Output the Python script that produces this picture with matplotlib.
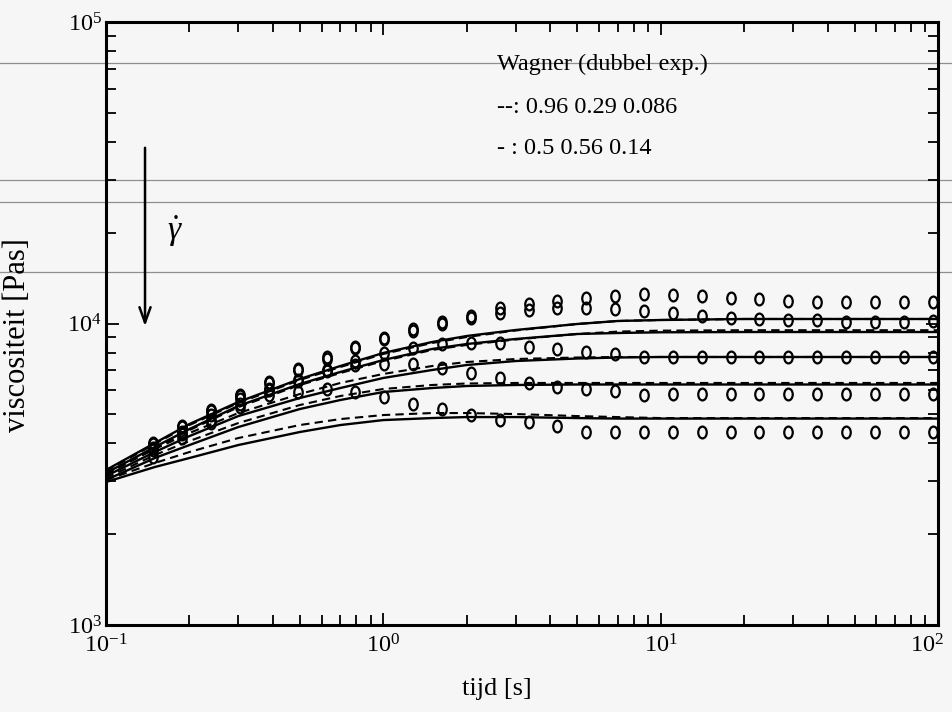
import numpy as np
import matplotlib
matplotlib.use("Agg")
import matplotlib.pyplot as plt
from matplotlib.path import Path
from matplotlib.lines import Line2D
from matplotlib.transforms import ScaledTranslation

plt.rcParams["font.family"] = ["Liberation Serif", "DejaVu Serif"]
plt.rcParams["mathtext.fontset"] = "custom"
plt.rcParams["mathtext.rm"] = "Liberation Serif"
plt.rcParams["mathtext.it"] = "Liberation Serif:italic"

# measurement times [s]
t_data = [0.148, 0.188, 0.239, 0.304, 0.386, 0.491, 0.624, 0.793, 1.007, 1.28,
          1.63, 2.07, 2.63, 3.34, 4.24, 5.39, 6.85, 8.71, 11.07, 14.07,
          17.9, 22.7, 28.9, 36.7, 46.6, 59.3, 75.3, 95.7]

# measured start-up viscosity [Pas], one list per shear rate
eta_1 = [4015, 4571, 5166, 5792, 6397, 7066, 7714, 8357, 8951, 9567,
         10092, 10590, 11230, 11605, 11899, 12176, 12334, 12495, 12430, 12364,
         12176, 12057, 11899, 11810, 11783, 11810, 11810, 11810]
eta_2 = [3975, 4525, 5110, 5730, 6330, 6990, 7630, 8270, 8860, 9470,
         9990, 10430, 10860, 11086, 11230, 11230, 11170, 11027, 10810, 10615,
         10452, 10325, 10271, 10233, 10153, 10145, 10145, 10160]
eta_3 = [3864, 4366, 4972, 5617, 6064, 6496, 6985, 7525, 7966, 8275,
         8531, 8616, 8600, 8357, 8231, 8063, 7903, 7761, 7761, 7761,
         7761, 7761, 7761, 7761, 7761, 7761, 7761, 7761]
eta_4 = [3806, 4300, 4786, 5408, 6017, 6447, 6958, 7285, 7341, 7358,
         7103, 6836, 6580, 6335, 6171, 6064, 5972, 5793, 5837, 5837,
         5837, 5837, 5837, 5837, 5837, 5837, 5837, 5837]
eta_5 = [3608, 4171, 4677, 5286, 5793, 5941, 6050, 5927, 5691, 5420,
         5193, 4972, 4786, 4702, 4581, 4356, 4366, 4366, 4366, 4366,
         4366, 4366, 4366, 4366, 4366, 4366, 4366, 4366]

# Wagner model (double exponential damping) predictions
t_model = [0.1, 0.15, 0.2, 0.3, 0.5, 0.7, 1, 1.5, 2, 3, 5, 7, 10, 20, 50, 100]
# damping 0.5 0.56 0.14 (solid)
model_a_solid = [3266, 4014, 4641, 5491, 6547, 7228, 7985, 8683, 9090, 9516, 9962, 10193, 10271, 10350, 10350, 10350]
model_b_solid = [3192, 3894, 4467, 5326, 6300, 6906, 7567, 8233, 8551, 8885, 9230, 9300, 9350, 9370, 9370, 9370]
model_c_solid = [3120, 3748, 4233, 4932, 5661, 6110, 6597, 7012, 7284, 7509, 7654, 7713, 7743, 7743, 7743, 7743]
model_d_solid = [3027, 3580, 3953, 4535, 5204, 5575, 5927, 6110, 6205, 6253, 6276, 6276, 6276, 6276, 6276, 6276]
model_e_solid = [2981, 3342, 3580, 3953, 4366, 4605, 4783, 4857, 4894, 4894, 4857, 4838, 4838, 4838, 4838, 4838]
# damping 0.96 0.29 0.086 (dashed)
model_a_dash = [3240, 3985, 4605, 5450, 6497, 7173, 7925, 8617, 9021, 9480, 9962, 10193, 10271, 10350, 10350, 10350]
model_b_dash = [3168, 3860, 4430, 5280, 6250, 6850, 7510, 8170, 8490, 8850, 9230, 9400, 9470, 9500, 9500, 9500]
model_c_dash = [3168, 3835, 4333, 5047, 5836, 6350, 6802, 7228, 7452, 7625, 7713, 7743, 7743, 7743, 7743, 7743]
model_d_dash = [3073, 3663, 4075, 4676, 5366, 5748, 6064, 6253, 6324, 6350, 6350, 6350, 6350, 6350, 6350, 6350]
model_e_dash = [3027, 3446, 3748, 4170, 4605, 4820, 4970, 5047, 5047, 5008, 4932, 4894, 4857, 4857, 4857, 4857]

legend_lines = ["Wagner (dubbel exp.)", "--: 0.96 0.29 0.086", "- : 0.5 0.56 0.14"]

BG = "#f6f6f6"
fig = plt.figure(figsize=(9.52, 7.12), dpi=100, facecolor=BG)
ax = fig.add_axes([106 / 952, 1 - 625 / 712, 832 / 952, 603 / 712])
ax.set_facecolor("none")
ax.set_xscale("log")
ax.set_yscale("log")
ax.set_xlim(0.1, 100)
ax.set_ylim(1e3, 1e5)

# faint horizontal streaks across the sheet
for yp in (63, 180, 202, 272):
    fig.add_artist(Line2D([0, 1], [1 - yp / 712] * 2, transform=fig.transFigure,
                          color="#8f8f8f", lw=0.9, zorder=-5))

for m in (model_a_solid, model_b_solid, model_c_solid, model_d_solid, model_e_solid):
    ax.plot(t_model, m, color="black", lw=1.7, solid_capstyle="butt")
for m in (model_a_dash, model_b_dash, model_c_dash, model_d_dash, model_e_dash):
    ax.plot(t_model, m, color="black", lw=1.5, ls=(0, (4, 2.5)))

circ = Path.unit_circle()
oval = Path(circ.vertices * np.array([0.72, 1.0]), circ.codes)
for eta in (eta_1, eta_2, eta_3, eta_4, eta_5):
    ax.plot(t_data, eta, ls="none", marker=oval, ms=8.5, mfc="none",
            mec="black", mew=1.6)

for s in ax.spines.values():
    s.set_linewidth(2.2)
ax.tick_params(which="both", direction="in", top=True, right=True,
               labelsize=17.5, width=1.3)
ax.tick_params(which="major", length=9)
ax.tick_params(which="minor", length=7)
ax.tick_params(axis="x", which="major", pad=7)
ax.tick_params(axis="y", which="major", pad=3)
ax.set_xticks([0.1, 1, 10, 100])

ax.set_xlabel("tijd [s]", fontsize=19)
ax.xaxis.set_label_coords(0.47, -0.088)
ax.set_ylabel("viscositeit [Pas]", fontsize=22)
ax.yaxis.set_label_coords(-0.089, 0.481)

# shear-rate direction arrow
ax.annotate("", xy=(0.0469, 0.491), xytext=(0.0469, 0.796),
            xycoords="axes fraction",
            arrowprops=dict(arrowstyle="->,head_length=1.1,head_width=0.4",
                            lw=1.8, color="black"))
ax.text(0.083, 0.652, r"$\dot{\gamma}$", transform=ax.transAxes,
        fontsize=24, ha="center", va="center")

for txt, yf in zip(legend_lines, (0.929, 0.859, 0.791)):
    ax.text(0.47, yf, txt, transform=ax.transAxes, fontsize=17.5,
            ha="left", va="center")

# keep the rightmost time label inside the sheet
fig.canvas.draw()
last = ax.xaxis.get_major_ticks()[-1]
last.label1.set_transform(last.label1.get_transform()
                          + ScaledTranslation(-8 / 72, 0, fig.dpi_scale_trans))

fig.savefig("out.png", dpi=100, facecolor=BG)
